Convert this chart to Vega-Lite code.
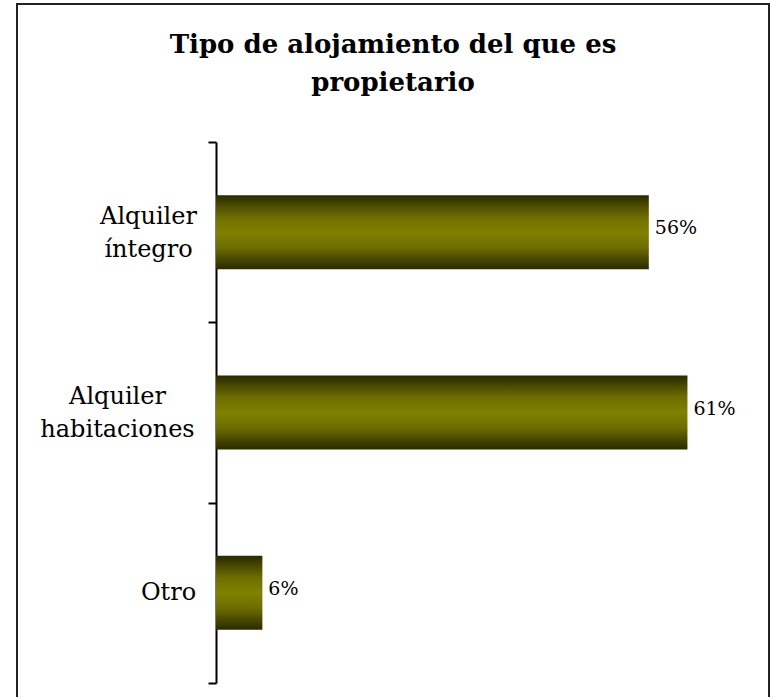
{
  "$schema": "https://vega.github.io/schema/vega-lite/v6.json",
  "autosize": "none",
  "width": 752,
  "height": 700,
  "padding": {"left": 17, "top": 4, "right": 1, "bottom": 0},
  "background": "white",
  "title": {
    "text": ["Tipo de alojamiento del que es", "propietario"],
    "font": "DejaVu Serif",
    "fontSize": 26,
    "fontWeight": "bold",
    "color": "#000000",
    "anchor": "middle",
    "baseline": "top",
    "lineHeight": 38,
    "offset": -104
  },
  "data": {
    "values": [
      {"tipo": "Alquiler íntegro", "valor": 0.56},
      {"tipo": "Alquiler habitaciones", "valor": 0.61},
      {"tipo": "Otro", "valor": 0.06}
    ]
  },
  "encoding": {
    "y": {
      "field": "tipo",
      "type": "nominal",
      "sort": null,
      "scale": {"range": [138, 679], "paddingInner": 0, "paddingOuter": 0},
      "axis": {
        "title": null,
        "offset": -199,
        "domainColor": "#000000",
        "domainWidth": 2,
        "tickColor": "#000000",
        "tickWidth": 2,
        "tickSize": 8,
        "tickBand": "extent",
        "labelExpr": "split(datum.label, ' ')",
        "labelFont": "DejaVu Serif",
        "labelFontSize": 24,
        "labelColor": "#000000",
        "labelAlign": "center",
        "labelBaseline": "middle",
        "labelLineHeight": 33,
        "labelOffset": {"condition": {"test": "datum.value == 'Otro'", "value": 0}, "value": -16},
        "labelPadding": {
          "condition": [
            {"test": "datum.value == 'Otro'", "value": 40},
            {"test": "datum.value == 'Alquiler habitaciones'", "value": 91}
          ],
          "value": 60
        },
        "labelLimit": 300
      }
    },
    "x": {
      "field": "valor",
      "type": "quantitative",
      "scale": {"domain": [0, 0.7], "range": [199, 740], "nice": false, "zero": false},
      "axis": null
    }
  },
  "layer": [
    {
      "mark": {
        "type": "bar",
        "height": {"band": 0.41},
        "color": {
          "gradient": "linear",
          "x1": 0, "y1": 0, "x2": 0, "y2": 1,
          "stops": [
            {"offset": 0, "color": "#2a2a00"},
            {"offset": 0.3, "color": "#6e6e00"},
            {"offset": 0.5, "color": "#808000"},
            {"offset": 0.7, "color": "#6e6e00"},
            {"offset": 1, "color": "#2a2a00"}
          ]
        }
      }
    },
    {
      "mark": {
        "type": "text",
        "align": "left",
        "baseline": "middle",
        "dx": 6,
        "dy": -4,
        "font": "DejaVu Serif",
        "fontSize": 19,
        "color": "#000000"
      },
      "encoding": {
        "text": {"field": "valor", "type": "quantitative", "format": ".0%"}
      }
    }
  ],
  "config": {
    "view": {"stroke": "#222222", "strokeWidth": 2},
    "axis": {"grid": false}
  }
}
